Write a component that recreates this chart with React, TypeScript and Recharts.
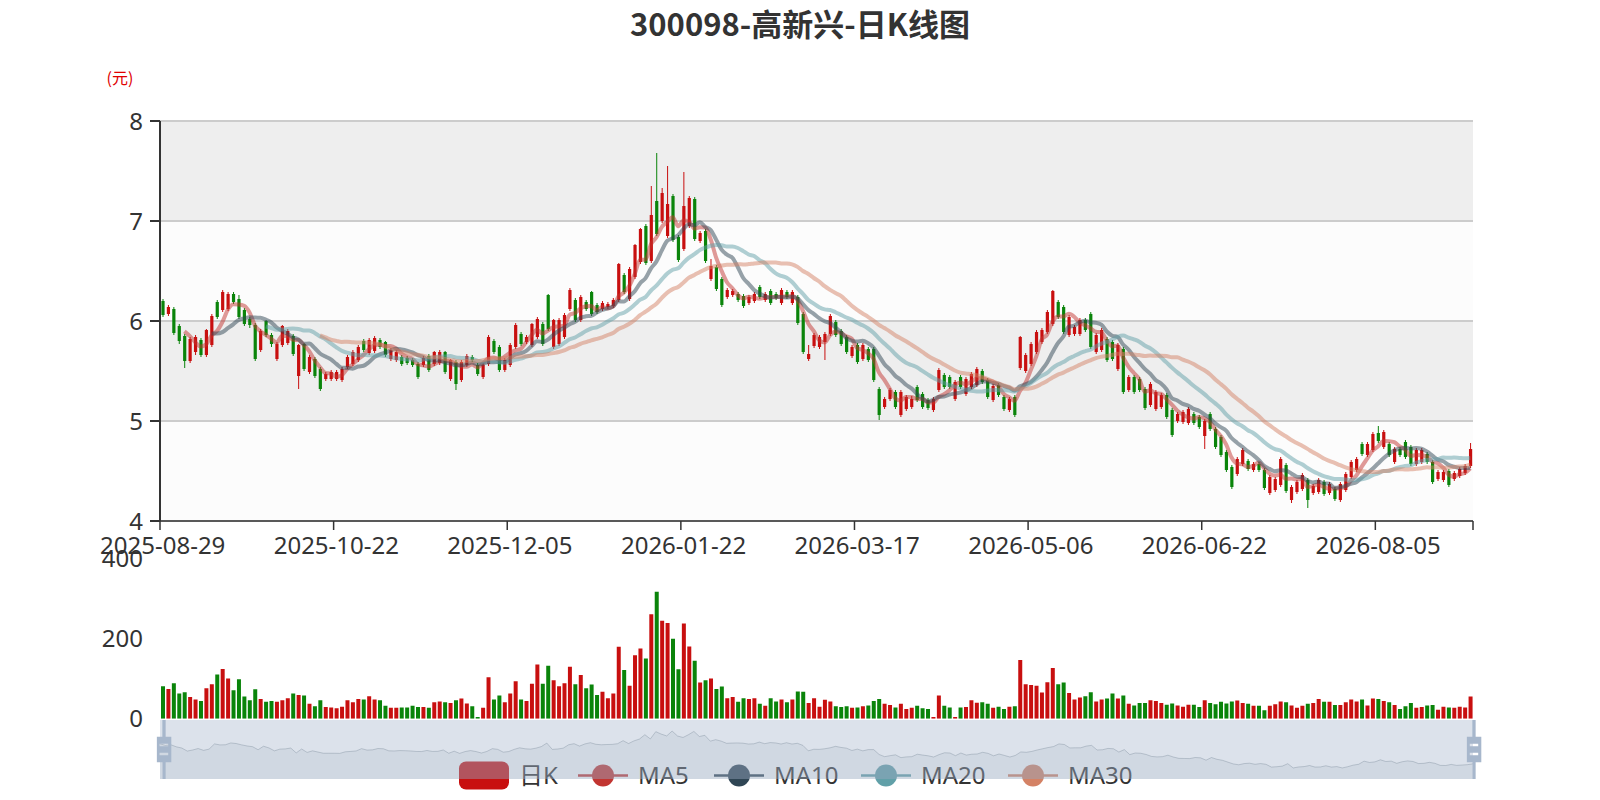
import React from 'react';
import { ComposedChart, Bar, Line, XAxis, YAxis, CartesianGrid, Cell, AreaChart, Area } from 'recharts';

const TITLE = '300098-高新兴-日K线图';
const UNIT = '(元)';
const DATE_LABELS = ['2025-08-29', '2025-10-22', '2025-12-05', '2026-01-22', '2026-03-17', '2026-05-06', '2026-06-22', '2026-08-05'];
const LABEL_STEP = 32;

const OPEN = [
  6.20, 6.07, 6.12, 5.95, 5.85, 5.60, 5.69, 5.81, 5.66, 5.76,
  6.19, 6.11, 6.12, 6.27, 6.22, 6.11, 6.02, 5.96, 5.71, 6.00,
  5.86, 5.62, 5.76, 5.78, 5.85, 5.45, 5.77, 5.49, 5.62, 5.52,
  5.42, 5.42, 5.42, 5.41, 5.54, 5.57, 5.61, 5.80, 5.68, 5.70,
  5.81, 5.79, 5.62, 5.61, 5.64, 5.63, 5.61, 5.57, 5.56, 5.65,
  5.57, 5.58, 5.69, 5.42, 5.59, 5.41, 5.56, 5.64, 5.56, 5.44,
  5.57, 5.80, 5.74, 5.51, 5.56, 5.74, 5.87, 5.79, 5.76, 5.84,
  5.97, 6.26, 5.74, 5.77, 5.84, 6.12, 6.21, 6.01, 6.19, 6.29,
  6.16, 6.12, 6.14, 6.15, 6.21, 6.46, 6.22, 6.44, 6.59, 6.95,
  6.60, 7.20, 7.00, 6.85, 7.25, 6.84, 6.72, 6.95, 7.22, 6.80,
  6.90, 6.42, 6.54, 6.42, 6.24, 6.26, 6.27, 6.25, 6.18, 6.20,
  6.34, 6.21, 6.30, 6.27, 6.18, 6.29, 6.18, 6.24, 6.07, 5.62,
  5.75, 5.74, 5.79, 5.87, 5.99, 5.90, 5.84, 5.65, 5.76, 5.62,
  5.72, 5.72, 5.32, 5.14, 5.22, 5.29, 5.06, 5.12, 5.14, 5.34,
  5.27, 5.21, 5.11, 5.31, 5.46, 5.44, 5.22, 5.44, 5.27, 5.34,
  5.36, 5.50, 5.41, 5.21, 5.36, 5.24, 5.11, 5.24, 5.53, 5.50,
  5.57, 5.69, 5.79, 5.89, 5.97, 6.19, 6.14, 5.86, 5.87, 5.87,
  6.01, 6.07, 5.69, 5.71, 5.82, 5.79, 5.52, 5.72, 5.31, 5.44,
  5.42, 5.32, 5.16, 5.12, 5.14, 5.26, 5.11, 5.00, 4.99, 4.98,
  5.07, 5.04, 4.85, 5.07, 4.92, 4.84, 4.69, 4.54, 4.47, 4.57,
  4.60, 4.51, 4.57, 4.51, 4.28, 4.31, 4.36, 4.56, 4.21, 4.29,
  4.32, 4.41, 4.28, 4.29, 4.39, 4.28, 4.32, 4.21, 4.31, 4.44,
  4.51, 4.77, 4.66, 4.71, 4.88, 4.74, 4.77, 4.59, 4.72, 4.79,
  4.74, 4.57, 4.59, 4.67, 4.59, 4.42, 4.41, 4.50, 4.42, 4.45,
  4.48, 4.55,
];

const CLOSE = [
  6.06, 6.14, 5.88, 5.80, 5.60, 5.82, 5.84, 5.66, 5.91, 6.05,
  6.04, 6.29, 6.27, 6.19, 6.04, 5.97, 5.96, 5.62, 5.90, 5.86,
  5.77, 5.77, 5.95, 5.90, 5.67, 5.76, 5.52, 5.64, 5.45, 5.32,
  5.47, 5.49, 5.49, 5.52, 5.64, 5.69, 5.74, 5.71, 5.81, 5.83,
  5.74, 5.66, 5.71, 5.69, 5.57, 5.58, 5.56, 5.44, 5.63, 5.51,
  5.69, 5.69, 5.49, 5.61, 5.37, 5.59, 5.65, 5.61, 5.47, 5.56,
  5.84, 5.69, 5.51, 5.61, 5.76, 5.96, 5.77, 5.84, 5.97, 6.02,
  5.77, 5.92, 6.01, 6.01, 6.06, 6.31, 6.01, 6.24, 6.12, 6.07,
  6.09, 6.18, 6.17, 6.21, 6.57, 6.29, 6.52, 6.76, 6.92, 6.58,
  7.06, 6.87, 7.28, 7.17, 6.81, 6.61, 7.15, 7.23, 6.82, 6.88,
  6.60, 6.55, 6.32, 6.16, 6.31, 6.30, 6.21, 6.15, 6.24, 6.27,
  6.24, 6.27, 6.18, 6.23, 6.31, 6.24, 6.29, 5.98, 5.69, 5.67,
  5.86, 5.84, 5.87, 6.05, 5.86, 5.77, 5.69, 5.74, 5.59, 5.76,
  5.61, 5.41, 5.06, 5.22, 5.31, 5.14, 5.29, 5.24, 5.22, 5.21,
  5.14, 5.13, 5.22, 5.51, 5.34, 5.34, 5.39, 5.34, 5.42, 5.47,
  5.52, 5.39, 5.24, 5.35, 5.26, 5.12, 5.22, 5.06, 5.84, 5.66,
  5.77, 5.89, 5.91, 6.09, 6.30, 6.04, 5.89, 6.04, 5.94, 6.01,
  5.91, 5.74, 5.86, 5.91, 5.61, 5.62, 5.76, 5.29, 5.44, 5.29,
  5.31, 5.13, 5.37, 5.29, 5.26, 5.04, 4.86, 5.07, 5.09, 5.12,
  4.98, 4.94, 5.00, 4.92, 4.74, 4.66, 4.51, 4.34, 4.62, 4.71,
  4.52, 4.57, 4.51, 4.33, 4.44, 4.42, 4.62, 4.30, 4.34, 4.39,
  4.46, 4.21, 4.35, 4.41, 4.27, 4.37, 4.22, 4.37, 4.47, 4.59,
  4.62, 4.67, 4.77, 4.87, 4.80, 4.89, 4.66, 4.72, 4.66, 4.64,
  4.57, 4.71, 4.71, 4.59, 4.39, 4.49, 4.49, 4.36, 4.48, 4.52,
  4.55, 4.72,
];

const LOW = [
  6.04, 6.05, 5.86, 5.77, 5.53, 5.58, 5.66, 5.64, 5.64, 5.74,
  6.02, 6.09, 6.10, 6.17, 6.02, 5.95, 5.93, 5.60, 5.69, 5.84,
  5.74, 5.60, 5.74, 5.76, 5.65, 5.32, 5.50, 5.47, 5.43, 5.30,
  5.40, 5.40, 5.40, 5.39, 5.52, 5.55, 5.59, 5.69, 5.66, 5.68,
  5.72, 5.64, 5.60, 5.59, 5.55, 5.56, 5.54, 5.42, 5.54, 5.49,
  5.55, 5.56, 5.47, 5.40, 5.31, 5.39, 5.54, 5.59, 5.45, 5.42,
  5.55, 5.67, 5.49, 5.49, 5.54, 5.72, 5.75, 5.77, 5.74, 5.82,
  5.75, 5.90, 5.72, 5.75, 5.82, 6.10, 5.99, 5.99, 6.10, 6.05,
  6.07, 6.10, 6.12, 6.13, 6.19, 6.27, 6.20, 6.42, 6.57, 6.56,
  6.58, 6.85, 6.98, 6.83, 6.79, 6.59, 6.70, 6.93, 6.80, 6.78,
  6.58, 6.40, 6.30, 6.14, 6.22, 6.24, 6.19, 6.13, 6.16, 6.18,
  6.22, 6.19, 6.16, 6.21, 6.16, 6.22, 6.16, 5.96, 5.67, 5.60,
  5.73, 5.72, 5.61, 5.85, 5.84, 5.75, 5.67, 5.63, 5.57, 5.60,
  5.59, 5.39, 5.01, 5.12, 5.20, 5.12, 5.04, 5.10, 5.12, 5.19,
  5.12, 5.11, 5.09, 5.29, 5.32, 5.32, 5.20, 5.32, 5.25, 5.32,
  5.34, 5.37, 5.22, 5.19, 5.24, 5.10, 5.09, 5.04, 5.51, 5.48,
  5.55, 5.67, 5.77, 5.87, 5.95, 6.02, 5.87, 5.84, 5.85, 5.85,
  5.89, 5.72, 5.67, 5.69, 5.59, 5.60, 5.50, 5.27, 5.29, 5.27,
  5.29, 5.11, 5.14, 5.10, 5.12, 5.02, 4.84, 4.98, 4.97, 4.96,
  4.96, 4.92, 4.72, 4.90, 4.72, 4.64, 4.49, 4.32, 4.45, 4.55,
  4.50, 4.49, 4.49, 4.31, 4.26, 4.29, 4.34, 4.28, 4.18, 4.27,
  4.30, 4.13, 4.26, 4.27, 4.25, 4.26, 4.20, 4.19, 4.29, 4.42,
  4.49, 4.65, 4.64, 4.69, 4.78, 4.72, 4.64, 4.57, 4.64, 4.62,
  4.55, 4.55, 4.57, 4.57, 4.37, 4.40, 4.39, 4.34, 4.40, 4.43,
  4.46, 4.53,
];

const HIGH = [
  6.22, 6.16, 6.14, 5.97, 5.87, 5.84, 5.86, 5.83, 5.92, 6.07,
  6.21, 6.31, 6.29, 6.29, 6.26, 6.13, 6.04, 5.98, 5.92, 6.01,
  5.88, 5.79, 5.96, 5.92, 5.87, 5.77, 5.78, 5.66, 5.64, 5.54,
  5.49, 5.51, 5.51, 5.54, 5.66, 5.71, 5.76, 5.82, 5.83, 5.85,
  5.83, 5.80, 5.73, 5.71, 5.66, 5.65, 5.63, 5.59, 5.65, 5.67,
  5.70, 5.71, 5.70, 5.62, 5.61, 5.61, 5.67, 5.66, 5.58, 5.58,
  5.86, 5.82, 5.76, 5.63, 5.78, 5.98, 5.89, 5.86, 5.98, 6.04,
  5.99, 6.27, 6.02, 6.03, 6.08, 6.33, 6.23, 6.26, 6.21, 6.30,
  6.18, 6.20, 6.19, 6.23, 6.58, 6.48, 6.54, 6.77, 6.93, 6.97,
  7.35, 7.68, 7.33, 7.55, 7.27, 6.86, 7.49, 7.25, 7.24, 6.90,
  6.92, 6.62, 6.56, 6.44, 6.33, 6.32, 6.29, 6.27, 6.26, 6.29,
  6.36, 6.29, 6.32, 6.29, 6.33, 6.31, 6.31, 6.26, 6.09, 5.76,
  5.88, 5.86, 5.89, 6.07, 6.01, 5.92, 5.86, 5.76, 5.78, 5.78,
  5.74, 5.74, 5.34, 5.24, 5.33, 5.31, 5.31, 5.26, 5.25, 5.36,
  5.29, 5.23, 5.24, 5.53, 5.48, 5.46, 5.41, 5.46, 5.44, 5.49,
  5.54, 5.52, 5.43, 5.37, 5.38, 5.26, 5.24, 5.26, 5.85, 5.68,
  5.79, 5.91, 5.93, 6.11, 6.31, 6.21, 6.16, 6.06, 5.96, 6.03,
  6.03, 6.09, 5.88, 5.93, 5.84, 5.81, 5.78, 5.74, 5.46, 5.46,
  5.44, 5.34, 5.39, 5.31, 5.28, 5.28, 5.13, 5.09, 5.11, 5.14,
  5.09, 5.06, 5.02, 5.09, 4.94, 4.86, 4.71, 4.56, 4.64, 4.73,
  4.62, 4.59, 4.59, 4.53, 4.46, 4.44, 4.64, 4.58, 4.36, 4.41,
  4.48, 4.43, 4.37, 4.43, 4.41, 4.39, 4.34, 4.39, 4.49, 4.61,
  4.64, 4.79, 4.79, 4.89, 4.95, 4.91, 4.79, 4.74, 4.74, 4.81,
  4.76, 4.73, 4.73, 4.69, 4.61, 4.51, 4.51, 4.52, 4.50, 4.54,
  4.57, 4.78,
];

const VOLUME = [
  81, 74, 88, 63, 66, 54, 48, 44, 76, 86,
  110, 124, 100, 71, 98, 55, 46, 73, 49, 42,
  44, 42, 46, 51, 63, 59, 58, 37, 31, 46,
  29, 28, 26, 30, 46, 41, 49, 48, 56, 48,
  46, 32, 27, 27, 28, 28, 32, 29, 29, 27,
  41, 43, 41, 39, 46, 50, 38, 31, 4, 27,
  103, 48, 58, 41, 63, 93, 48, 44, 87, 135,
  87, 132, 96, 81, 88, 129, 86, 109, 76, 85,
  59, 67, 51, 63, 179, 121, 82, 158, 175, 150,
  260, 316, 244, 238, 199, 123, 237, 180, 144, 90,
  96, 100, 74, 80, 51, 54, 42, 51, 49, 51,
  37, 32, 51, 43, 48, 41, 48, 68, 67, 39,
  51, 30, 47, 43, 31, 29, 31, 27, 28, 31,
  33, 44, 49, 37, 34, 28, 37, 24, 27, 32,
  26, 24, 4, 58, 32, 28, 4, 28, 29, 46,
  40, 41, 37, 27, 30, 24, 30, 31, 146, 86,
  84, 82, 65, 91, 126, 86, 90, 64, 48, 53,
  56, 66, 43, 48, 50, 63, 50, 58, 37, 33,
  39, 39, 46, 44, 39, 35, 38, 33, 30, 35,
  35, 29, 46, 39, 36, 42, 38, 43, 45, 39,
  37, 32, 32, 21, 32, 36, 43, 41, 33, 27,
  32, 37, 39, 49, 42, 42, 34, 34, 41, 48,
  43, 48, 33, 50, 49, 44, 41, 34, 24, 31,
  39, 27, 29, 33, 34, 22, 30, 28, 27, 30,
  28, 55,
];

const MA_PERIODS = [5, 10, 20, 30];
const MA_NAMES = ['MA5', 'MA10', 'MA20', 'MA30'];
const MA_COLORS = ['#c23531', '#2f4554', '#61a0a8', '#d48265'];
const UP_COLOR = '#c80f0f';
const DOWN_COLOR = '#0a840a';
const PRICE_TICKS = [4, 5, 6, 7, 8];
const VOLUME_TICKS = [0, 200, 400];

const FONT = "'Noto Sans', 'Noto Sans CJK SC', sans-serif";
const N = OPEN.length;
const PLOT_LEFT = 160;
const PLOT_RIGHT = 1473;
const BAND = (PLOT_RIGHT - PLOT_LEFT) / N;

function movingAverage(period: number): (number | null)[] {
  return CLOSE.map((_, i) => {
    if (i < period - 1) return null;
    let s = 0;
    for (let k = i - period + 1; k <= i; k++) s += CLOSE[k];
    return +(s / period).toFixed(3);
  });
}
const MA = MA_PERIODS.map(movingAverage);

const rows = OPEN.map((o, i) => ({
  i,
  open: o,
  close: CLOSE[i],
  low: LOW[i],
  high: HIGH[i],
  range: [LOW[i], HIGH[i]],
  vol: VOLUME[i],
  ma5: MA[0][i],
  ma10: MA[1][i],
  ma20: MA[2][i],
  ma30: MA[3][i],
}));

const LABEL_IDX = DATE_LABELS.map((_, k) => k * LABEL_STEP);
const X_TICKS = [...LABEL_IDX, N - 1];

const SH_MIN0 = Math.min(...OPEN);
const SH_MAX0 = Math.max(...OPEN);
const SH_PAD = (SH_MAX0 - SH_MIN0) * 0.3;
const SH_DOMAIN = [SH_MIN0 - SH_PAD, SH_MAX0 + SH_PAD];

const renderCandle = (props: any) => {
  const { x, y, width, height } = props;
  const d = props.payload && props.payload.open != null ? props.payload : rows[props.index];
  if (x == null || y == null || !d) return <g />;
  const yTop = Math.min(y, y + height);
  const yBot = Math.max(y, y + height);
  const span = d.high - d.low;
  const toY = (v: number) => yTop + (span > 0 ? ((d.high - v) / span) * (yBot - yTop) : 0);
  const color = d.close >= d.open ? UP_COLOR : DOWN_COLOR;
  const cx = x + width / 2;
  const bt = toY(Math.max(d.open, d.close));
  const bb = toY(Math.min(d.open, d.close));
  const bw = 3.2;
  return (
    <g>
      <line x1={cx} x2={cx} y1={yTop} y2={yBot} stroke={color} strokeWidth={1} />
      <rect x={cx - bw / 2} y={bt} width={bw} height={Math.max(bb - bt, 1)} fill={color} />
    </g>
  );
};

const DateTick = (props: any) => {
  const { x, y, payload } = props;
  const idx = Number(payload.value);
  const axisY = y - 9;
  if (idx === N - 1) {
    return <line x1={x + BAND / 2} x2={x + BAND / 2} y1={axisY} y2={axisY + 9} stroke="#333" strokeWidth={1.5} />;
  }
  const label = DATE_LABELS[Math.round(idx / LABEL_STEP)];
  return (
    <g>
      <line x1={x - BAND / 2} x2={x - BAND / 2} y1={axisY} y2={axisY + 9} stroke="#333" strokeWidth={1.5} />
      <text x={x} y={axisY + 33} textAnchor="middle" fill="#333" fontSize={24} fontFamily={FONT}>
        {label}
      </text>
    </g>
  );
};

const HANDLE_PATH =
  'M8.2,13.6V3.9H6.3v9.7H3.1v14.9h3.3v9.7h1.8v-9.7h3.3V13.6H8.2z M9.7,24.4H4.8v-1.4h4.9V24.4z M9.7,19.1H4.8v-1.4h4.9V19.1z';
const SLIDER_TOP = 720;
const SLIDER_H = 59;
const HANDLE_SCALE = SLIDER_H / 34.3;

const Handle = ({ cx }: { cx: number }) => (
  <path
    d={HANDLE_PATH}
    fill="#a7b7cc"
    fillRule="evenodd"
    transform={`translate(${cx - 7.25 * HANDLE_SCALE}, ${SLIDER_TOP + SLIDER_H / 2 - 21.05 * HANDLE_SCALE}) scale(${HANDLE_SCALE})`}
  />
);

const LEGEND_Y = 775.5;
const LEGEND_ITEMS = [
  { name: '日K', icon: 459, text: 519, kind: 'k', color: UP_COLOR },
  { name: MA_NAMES[0], icon: 578, text: 638, kind: 'line', color: MA_COLORS[0] },
  { name: MA_NAMES[1], icon: 714, text: 774, kind: 'line', color: MA_COLORS[1] },
  { name: MA_NAMES[2], icon: 861, text: 921, kind: 'line', color: MA_COLORS[2] },
  { name: MA_NAMES[3], icon: 1008, text: 1068, kind: 'line', color: MA_COLORS[3] },
];

export default function App() {
  const maKeys = ['ma5', 'ma10', 'ma20', 'ma30'];
  return (
    <div style={{ position: 'absolute', left: 0, top: 0, width: 1600, height: 800, background: '#fff', overflow: 'hidden' }}>
      {/* title and unit */}
      <svg width={1600} height={110} style={{ position: 'absolute', left: 0, top: 0 }}>
        <text x={800} y={36} textAnchor="middle" fill="#333" fontSize={31} fontWeight="bold" fontFamily="'Noto Sans CJK SC', 'Noto Sans', sans-serif">
          {TITLE}
        </text>
        <text x={120} y={84} textAnchor="middle" fill="#e00000" fontSize={16} fontFamily="'Noto Sans CJK SC', sans-serif">
          {UNIT}
        </text>
      </svg>

      {/* price chart */}
      <div style={{ position: 'absolute', left: 0, top: 0 }}>
        <ComposedChart width={1600} height={600} data={rows} margin={{ top: 121, right: 1600 - PLOT_RIGHT, bottom: 19, left: 100 }}>
          <CartesianGrid vertical={false} stroke="#cccccc" strokeWidth={2} horizontalFill={['#eeeeee', '#fcfcfc']} fillOpacity={1} />
          <XAxis
            dataKey="i"
            type="category"
            ticks={X_TICKS}
            interval={0}
            tick={DateTick}
            tickLine={false}
            tickSize={9}
            tickMargin={0}
            axisLine={{ stroke: '#333', strokeWidth: 1.5 }}
            height={60}
          />
          <YAxis
            type="number"
            domain={[4, 8]}
            ticks={PRICE_TICKS}
            allowDataOverflow
            width={60}
            tickSize={10}
            tickMargin={7}
            axisLine={{ stroke: '#333', strokeWidth: 2 }}
            tickLine={{ stroke: '#333', strokeWidth: 2 }}
            tick={{ fill: '#333', fontSize: 24, fontFamily: FONT }}
          />
          <Bar dataKey="range" barSize={4} shape={renderCandle} isAnimationActive={false} />
          {maKeys.map((k, j) => (
            <Line
              key={k}
              dataKey={k}
              type="monotone"
              stroke={MA_COLORS[j]}
              strokeOpacity={0.5}
              strokeWidth={4}
              dot={false}
              activeDot={false}
              isAnimationActive={false}
            />
          ))}
        </ComposedChart>
      </div>

      {/* volume chart */}
      <div style={{ position: 'absolute', left: 0, top: 520 }}>
        <ComposedChart width={1600} height={220} data={rows} margin={{ top: 38, right: 1600 - PLOT_RIGHT, bottom: 21.3, left: 100 }}>
          <XAxis dataKey="i" type="category" hide />
          <YAxis
            type="number"
            domain={[0, 400]}
            ticks={VOLUME_TICKS}
            allowDataOverflow
            width={60}
            axisLine={false}
            tickLine={false}
            tickSize={10}
            tickMargin={7}
            tick={{ fill: '#333', fontSize: 24, fontFamily: FONT }}
          />
          <Bar dataKey="vol" barSize={4} isAnimationActive={false}>
            {rows.map((r) => (
              <Cell key={r.i} fill={r.close >= r.open ? UP_COLOR : DOWN_COLOR} />
            ))}
          </Bar>
        </ComposedChart>
      </div>

      {/* legend (drawn beneath the slider) */}
      <svg width={1600} height={800} style={{ position: 'absolute', left: 0, top: 0, pointerEvents: 'none' }}>
        {LEGEND_ITEMS.map((it) => (
          <g key={it.name}>
            {it.kind === 'k' ? (
              <rect x={it.icon} y={LEGEND_Y - 14} width={50} height={28} rx={7} fill={it.color} />
            ) : (
              <g>
                <line x1={it.icon} x2={it.icon + 50} y1={LEGEND_Y} y2={LEGEND_Y} stroke={it.color} strokeWidth={2.5} />
                <circle cx={it.icon + 25} cy={LEGEND_Y} r={11} fill={it.color} />
              </g>
            )}
            <text x={it.text} y={LEGEND_Y + 8.5} fill="#333" fontSize={24} fontFamily="'Noto Sans', 'Noto Sans CJK SC', sans-serif">
              {it.name}
            </text>
          </g>
        ))}
      </svg>

      {/* slider data shadow */}
      <div style={{ position: 'absolute', left: PLOT_LEFT, top: SLIDER_TOP }}>
        <AreaChart width={PLOT_RIGHT - PLOT_LEFT} height={SLIDER_H} data={rows} margin={{ top: 0, right: 0, bottom: 0, left: 0 }}>
          <XAxis dataKey="i" type="number" domain={[0, N - 1]} hide />
          <YAxis type="number" domain={SH_DOMAIN} hide allowDataOverflow />
          <Area
            dataKey="open"
            type="linear"
            stroke="#2f4554"
            strokeOpacity={0.3}
            strokeWidth={1}
            fill="#2f4554"
            fillOpacity={0.09}
            dot={false}
            activeDot={false}
            isAnimationActive={false}
          />
        </AreaChart>
      </div>

      {/* slider filler and handles */}
      <svg width={1600} height={800} style={{ position: 'absolute', left: 0, top: 0, pointerEvents: 'none' }}>
        <rect x={PLOT_LEFT} y={SLIDER_TOP} width={PLOT_RIGHT - PLOT_LEFT} height={SLIDER_H} fill="rgba(167,183,204,0.4)" />
        <Handle cx={PLOT_LEFT + 4} />
        <Handle cx={PLOT_RIGHT + 1} />
      </svg>
    </div>
  );
}
